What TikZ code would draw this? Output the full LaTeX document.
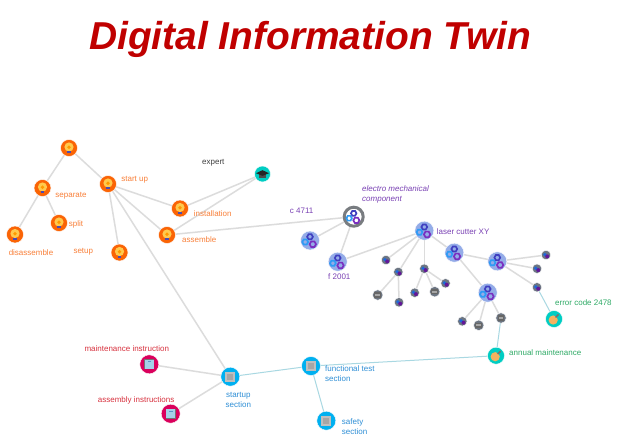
\documentclass[tikz,border=0pt]{standalone}
\usepackage{fontspec}
\setmainfont{Liberation Sans}
\usetikzlibrary{shapes.geometric}
\definecolor{ttl}{HTML}{C00000}
\definecolor{edgegrey}{HTML}{DCDCDC}
\definecolor{edgeblue}{HTML}{A9D8E2}
\definecolor{tor}{HTML}{F9803A}
\definecolor{tpu}{HTML}{7A42B4}
\definecolor{tgr}{HTML}{2FAA66}
\definecolor{tbl}{HTML}{2F8FD6}
\definecolor{tre}{HTML}{D8323F}
\definecolor{cbulb}{HTML}{FA6405}
\definecolor{csmall}{HTML}{6C7582}
\definecolor{cgear}{HTML}{94ACE8}
\definecolor{chub}{HTML}{787C80}
\definecolor{csect}{HTML}{00B0F0}
\definecolor{cinstr}{HTML}{DA005C}
\definecolor{cteal}{HTML}{00CDC3}
\definecolor{csheet}{HTML}{A5D0E8}
\definecolor{csheetb}{HTML}{5A96C8}
\definecolor{cwrench}{HTML}{F5B25F}
\definecolor{cyel}{HTML}{FFC94D}
\tikzset{
  x=1pt,y=-1pt,
  lab/.style={font=\fontsize{8}{10}\selectfont,inner sep=0pt,align=left},
  labl/.style={lab,anchor=west},
  grey/.style={draw=edgegrey,line width=1.5pt},
  pale/.style={draw=edgeblue,line width=1pt},
  dot/.style={circle,inner sep=0pt,draw=white,line width=.4pt},
  bulbn/.style={dot,minimum size=17pt,fill=cbulb},
  small/.style={dot,minimum size=9.5pt,fill=csmall},
  gearn/.style={dot,minimum size=19pt,fill=cgear},
  hub/.style={circle,inner sep=0pt,minimum size=19pt,draw=chub,line width=3pt,fill=white},
  sect/.style={dot,minimum size=19pt,fill=csect},
  instr/.style={dot,minimum size=19pt,fill=cinstr},
  teal/.style={dot,minimum size=17pt,fill=cteal},
  pics/bulb/.style={code={
    \fill[cyel] (0,-1) circle (4.6);
    \fill[orange!80!yellow] (0,-.8) circle (1.8);
    \fill[blue!40!gray] (-1.8,3) rectangle (1.8,5.4);
  }},
  pics/gears/.style={code={
    \foreach \px/\py/\r/\c in {0/-4.2/2.9/3F3FC0,-4.8/1/2.9/2E9BF5,2.8/3.2/3.2/7A30C0}{
      \definecolor{gearcol}{HTML}{\c}
      \draw[gearcol,line width=1.7pt] (\px+\r,\py)--(\px+.5*\r,\py+.866*\r)--(\px-.5*\r,\py+.866*\r)--(\px-\r,\py)--(\px-.5*\r,\py-.866*\r)--(\px+.5*\r,\py-.866*\r)--cycle;
    }
  }},
  pics/minigear/.style={code={
    \fill[blue!60!cyan,opacity=.7] (-1.2,-.4) circle (1.9);
    \fill[violet!75!blue,opacity=.8] (1.2,1.4) circle (2);
  }},
  pics/screen/.style={code={
    \fill[black!60] (-3.4,-2.6) rectangle (3.4,2.6);
    \fill[black!35] (-2.4,-1) rectangle (2.4,1);
  }},
  pics/sheet/.style={code={
    \fill[black!25] (-5,-5) rectangle (5,5);
    \fill[black!35] (-3,-3) rectangle (3,3);
  }},
  pics/bluesheet/.style={code={
    \fill[black!55] (-5,-5) rectangle (5,5);
    \fill[csheet] (-4.5,-4.5) rectangle (4.5,4.5);
    \fill[csheetb] (-1.8,-3.2) rectangle (1.8,-2.3);
  }},
  pics/hat/.style={code={
    \fill[black!70] (-3.5,0) rectangle (3.5,4);
    \fill[black!85] (0,-3.8)--(6.5,-.8)--(0,1.8)--(-6.5,-.8)--cycle;
  }},
  pics/wrench/.style={code={
    \fill[cwrench] (-.8,1) circle (4.6);
    \draw[black!55,line width=1.6pt] (1.6,-1.6)--(4.6,-4.6);
  }},
}
\begin{document}
\begin{tikzpicture}
\useasboundingbox (0,0) rectangle (620,439);
\fill[white] (0,0) rectangle (620,439);
\node[font=\fontsize{38.9}{44}\selectfont\bfseries\itshape,text=ttl,inner sep=0pt] (title) at (310,39) {Digital Information Twin};

% bulbs
\foreach \n/\x/\y in {btop/69/148,bsep/42.5/188,bdis/15/234.5,bspl/59/223,bsta/108/184,bset/119.5/252.5,bins/180/208.5,bass/167/235}{
  \node[bulbn] (\n) at (\x,\y) {};
  \pic at (\x,\y) {bulb};
}
\node[teal,minimum size=16pt] (expert) at (262.5,174) {};
\pic at (262.5,174) {hat};
% components
\node[hub] (hub) at (353.7,216.7) {};
\pic[scale=.95] at (353.7,217.3) {gears};
\foreach \n/\x/\y in {c4711/310/240.5,f2001/337.7/261.7,laser/424.3/230.7,gb/454.3/252.7,gc/497.3/261.3,gd/487.7/292.7}{
  \node[gearn] (\n) at (\x,\y) {};
  \pic at (\x,\y+.5) {gears};
}
% small nodes
\foreach \n/\x/\y in {sa/386/260,sb/398.3/272,sc/424.3/268.7,sd/399/302.3,se/414.7/292.7,sf/445.5/283.3,sg/462.3/321.3,sh/546/255,si/537/268.7,sj/537/287.3}{
  \node[small] (\n) at (\x,\y) {};
  \pic at (\x,\y) {minigear};
}
\foreach \n/\x/\y in {ta/377.7/295,tb/434.7/291.7,tc/478.7/325.3,td/501/318}{
  \node[small,minimum size=10.5pt] (\n) at (\x,\y) {};
  \pic at (\x,\y) {screen};
}
% maintenance
\node[teal] (err) at (554,319) {};
\pic at (554,319) {wrench};
\node[teal] (ann) at (496,355.7) {};
\pic at (496,355.7) {wrench};
% sections
\foreach \n/\x/\y in {ssec/230.3/376.7,fsec/311/366,safe/326.3/420.7}{
  \node[sect] (\n) at (\x,\y) {};
  \pic at (\x,\y) {sheet};
}
\foreach \n/\x/\y in {main/149.3/364.3,asmb/170.7/413.7}{
  \node[instr] (\n) at (\x,\y) {};
  \pic at (\x,\y) {bluesheet};
}
% grey edges
\foreach \a/\b in {btop/bsep,btop/bsta,bsep/bdis,bsep/bspl,bsta/bset,bsta/bins,bsta/bass,bsta/ssec,bins/expert,bass/expert,bass/hub,hub/c4711,hub/f2001,f2001/laser,laser/sa,laser/sb,laser/sc,laser/gb,sb/ta,sb/sd,sc/se,sc/tb,sc/sf,gb/gc,gb/gd,gc/sh,gc/si,gc/sj,gd/sg,gd/tc,gd/td,ssec/main,ssec/asmb}{
  \draw[grey] (\a)--(\b);
}
% pale edges
\foreach \a/\b in {sj/err,td/ann,ann/fsec,fsec/ssec,fsec/safe}{
  \draw[pale] (\a)--(\b);
}
% labels
\node[lab,text=tor] (l1) at (71,196) {separate};
\node[lab,text=tor] (l2) at (76,224.7) {split};
\node[lab,text=tor] (l3) at (31,252.7) {disassemble};
\node[lab,text=tor] (l4) at (83.3,251.7) {setup};
\node[lab,text=tor] (l5) at (134.7,179.7) {start up};
\node[lab,text=tor] (l6) at (212.7,214) {installation};
\node[lab,text=tor] (l7) at (199.3,239.3) {assemble};
\node[lab,text=black!75] (l8) at (213.3,162.3) {expert};
\node[lab,text=tpu] (l9) at (301.7,210.3) {c 4711};
\node[labl,text=tpu,font=\fontsize{8}{10}\selectfont\itshape] (l10) at (362,194.3) {electro mechanical\\component};
\node[lab,text=tpu] (l11) at (339.3,276.3) {f 2001};
\node[labl,text=tpu] (l12) at (436.7,232) {laser cutter XY};
\node[labl,text=tgr] (l13) at (555,302.3) {error code 2478};
\node[labl,text=tgr] (l14) at (509,352.3) {annual maintenance};
\node[labl,text=tre] (l15) at (84.3,349) {maintenance instruction};
\node[labl,text=tre] (l16) at (97.7,400) {assembly instructions};
\node[lab,text=tbl,align=center] (l17) at (238.3,400) {startup\\section};
\node[labl,text=tbl] (l18) at (325,373.7) {functional test\\section};
\node[labl,text=tbl] (l19) at (341.7,426.2) {safety\\section};
\end{tikzpicture}
\end{document}
